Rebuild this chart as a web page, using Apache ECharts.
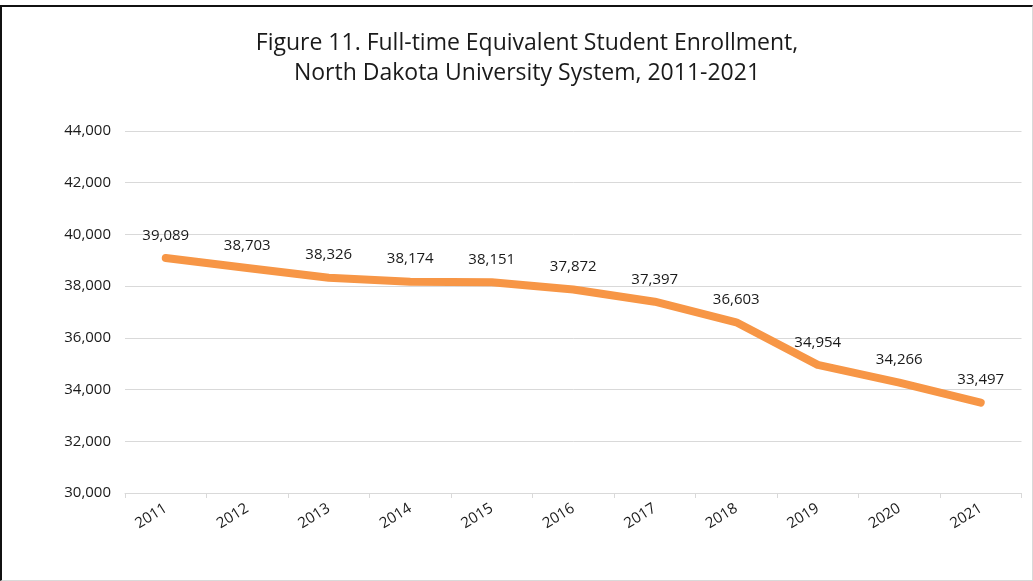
<!DOCTYPE html>
<html>
<head>
<meta charset="utf-8">
<script src="https://cdn.jsdelivr.net/npm/echarts@6/dist/echarts.min.js"></script>
<style>
html,body{margin:0;padding:0;background:#fff;}
#frame{position:absolute;left:0;top:5px;width:1030px;height:573px;border-top:2px solid #111;border-left:2px solid #111;border-right:1px solid #d9d9d9;border-bottom:1px solid #d9d9d9;}
#chart{position:absolute;left:0;top:0;width:1033px;height:581px;}
</style>
</head>
<body>
<div id="frame"></div>
<div id="chart"></div>
<script>
const years = ['2011','2012','2013','2014','2015','2016','2017','2018','2019','2020','2021'];
const enrollment = [39089, 38703, 38326, 38174, 38151, 37872, 37397, 36603, 34954, 34266, 33497];
const titleText = 'Figure 11. Full-time Equivalent Student Enrollment,\nNorth Dakota University System, 2011-2021';
const yMin = 30000, yMax = 44000, yStep = 2000;

const chart = echarts.init(document.getElementById('chart'), null, {renderer:'canvas'});
const fmt = v => v.toLocaleString('en-US');
chart.setOption({
  animation:false,
  backgroundColor:'transparent',
  title:{
    text:titleText,
    left:522,
    textAlign:'center',
    top:23,
    textStyle:{fontFamily:'Open Sans',fontSize:23,fontWeight:'normal',color:'#1a1a1a',lineHeight:30}
  },
  grid:{left:125,right:11.5,top:131,bottom:88,containLabel:false},
  xAxis:{
    type:'category',
    data:years,
    boundaryGap:true,
    axisLine:{lineStyle:{color:'#d9d9d9',width:1}},
    axisTick:{show:true,length:5,lineStyle:{color:'#d9d9d9'}},
    axisLabel:{rotate:32,margin:14,color:'#1a1a1a',fontFamily:'Open Sans',fontSize:15}
  },
  yAxis:{
    type:'value',
    min:yMin,max:yMax,interval:yStep,
    axisLine:{show:false},
    axisTick:{show:false},
    splitLine:{lineStyle:{color:'#d9d9d9',width:1}},
    axisLabel:{formatter:fmt,color:'#1a1a1a',fontFamily:'Open Sans',fontSize:15,margin:14}
  },
  series:[{
    type:'line',
    data:enrollment,
    symbol:'circle',
    symbolSize:2,
    showSymbol:true,
    itemStyle:{color:'#F79646'},
    lineStyle:{color:'#F79646',width:8,cap:'round',join:'round'},
    label:{show:true,position:'top',distance:14,formatter:p=>fmt(p.value),color:'#1a1a1a',fontFamily:'Open Sans',fontSize:15}
  }]
});
</script>
</body>
</html>
